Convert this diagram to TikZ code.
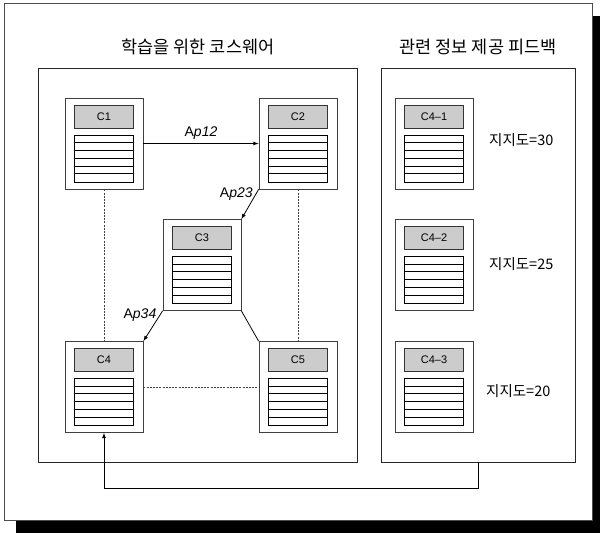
\documentclass[tikz,border=0pt]{standalone}
\usepackage{fontspec}
\setmainfont{Liberation Sans}
\newfontfamily\korfont{Noto Sans CJK KR}
\usetikzlibrary{positioning,calc}
\tikzset{
    frame/.style={draw=black!70, fill=white, line width=0.8pt},
    panel/.style={draw=black!85, line width=0.8pt, minimum height=394pt, inner sep=0pt},
    comp/.style={draw=black!75, fill=white, line width=0.8pt, minimum width=78pt, minimum height=91pt, inner sep=0pt},
    head/.style={draw=black!80, fill=black!20, line width=0.8pt, minimum width=59pt, minimum height=23pt, inner sep=0pt, font=\fontsize{11}{13}\selectfont},
    tab/.style={draw, line width=0.8pt, minimum width=59pt, minimum height=47pt, inner sep=0pt},
    rows/.style={line width=0.8pt},
    link/.style={line width=0.8pt, ->, >=latex},
    dotline/.style={line width=0.6pt, dash pattern=on 2pt off 1.2pt, black!75},
    title/.style={font=\korfont\fontsize{17.5}{20}\selectfont},
    score/.style={font=\korfont\fontsize{14.5}{17}\selectfont, anchor=west, inner sep=0pt},
    alabel/.style={font=\fontsize{14}{17}\selectfont, inner sep=1pt},
}
\begin{document}
\begin{tikzpicture}[x=1pt, y=-1pt]
    \useasboundingbox (0,0) rectangle (600,533);
    % shadow and frame
    \fill[black] (16,16) rectangle (600,533);
    \draw[frame] (4.5,3) rectangle (592.5,520);

    % panels
    \node[panel, minimum width=319pt] (LP) at (197.5,265) {};
    \node[panel, minimum width=194pt] (RP) at (478,265) {};
    \node[title] (LT) at (198,47) {학습을 위한 코스웨어};
    \node[title] (RT) at (478,47) {관련 정보 제공 피드백};

    % components
    \foreach \n/\x/\y/\lab in {C1/104/143.5/C1, C2/298/143.5/C2, C3/202/265/C3,
        C4/104/387/C4, C5/298/387/C5,
        C41/434/143.5/C4\textendash1, C42/434/265/C4\textendash2, C43/434/387/C4\textendash3} {
        \node[comp] (\n) at (\x,\y) {};
        \node[head] (\n-hd) at ($(\n.center)+(0,-27)$) {\lab};
        \node[tab] (\n-tb) at ($(\n.center)+(0,15)$) {};
        \foreach \k in {1,...,5} {
            \draw[rows] ($(\n-tb.north west)+(0,\k*7.83)$) -- ++(59,0);
        }
    }

    % links
    \draw[link] (C1) -- node[alabel, above=3pt] {A\textit{p12}} (C2);
    \draw[link] (C2.south west) -- node[alabel, pos=0.15, left=2pt] {A\textit{p23}} (C3.north east);
    \draw[link] (C3.south west) -- node[alabel, pos=0.15, left=2pt] {A\textit{p34}} (C4.north east);
    \draw[line width=0.8pt] (C3.south east) -- (C5.north west);
    \draw[dotline] (C1) -- (C4);
    \draw[dotline] (C2) -- (C5);
    \draw[dotline] (C4) -- (C5);

    % scores
    \node[score] (S1) at (489,140) {지지도=30};
    \node[score] (S2) at (489,264) {지지도=25};
    \node[score] (S3) at (486,391) {지지도=20};

    % feedback
    \draw[link] (RP.south) -- ++(0,26) -| (C4.south);
\end{tikzpicture}
\end{document}
